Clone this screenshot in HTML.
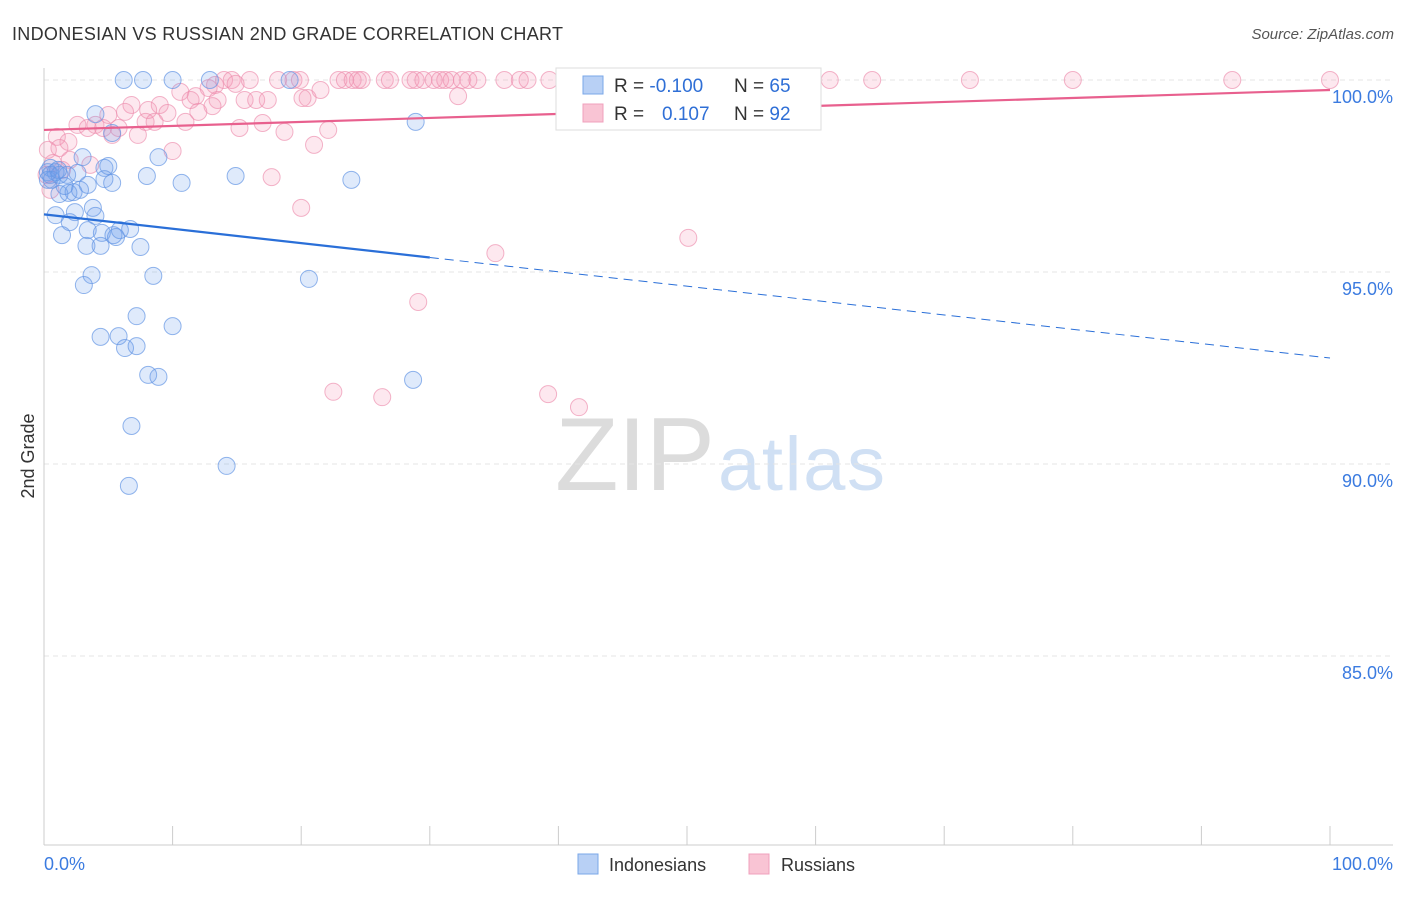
<!DOCTYPE html>
<html><head><meta charset="utf-8"><style>
body{margin:0;background:#fff;font-family:"Liberation Sans",sans-serif;}
svg text{font-family:"Liberation Sans",sans-serif;}
</style></head><body>
<svg id="chart" width="1406" height="892" xmlns="http://www.w3.org/2000/svg">
<text x="12" y="40" font-size="18" fill="#333" textLength="551">INDONESIAN VS RUSSIAN 2ND GRADE CORRELATION CHART</text>
<text x="1394" y="39" font-size="15" fill="#555" text-anchor="end" font-style="italic">Source: ZipAtlas.com</text>
<g>
<text x="555" y="490" font-size="104" font-family="Liberation Serif" fill="#dcdcdc" textLength="160">ZIP</text>
<text x="718" y="490" font-size="76" fill="#d0e0f4" textLength="167">atlas</text>
</g>
<g id="grid"></g>
<g id="axes"></g>
<g id="pts"></g>
<g id="trend"></g>
<text transform="translate(34,456) rotate(-90)" font-size="18" fill="#333" text-anchor="middle">2nd Grade</text>
<g>
<rect x="556" y="68" width="265" height="62" fill="#fff" stroke="#ddd"/>
<rect x="583" y="76" width="20" height="18" fill="#b8d0f5" stroke="#7aa7e8"/>
<rect x="583" y="104" width="20" height="18" fill="#f9c4d4" stroke="#f0a0bc"/>
<text x="614" y="92" font-size="19" fill="#333">R = <tspan fill="#2f6fd6">-0.100</tspan></text>
<text x="734" y="92" font-size="19" fill="#333">N = <tspan fill="#2f6fd6">65</tspan></text>
<text x="614" y="120" font-size="19" fill="#333">R = <tspan fill="#2f6fd6" x="662">0.107</tspan></text>
<text x="734" y="120" font-size="19" fill="#333">N = <tspan fill="#2f6fd6">92</tspan></text>
</g>
<g>
<rect x="578" y="854" width="20" height="20" fill="#b8d0f5" stroke="#7aa7e8"/>
<text x="609" y="871" font-size="18" fill="#333">Indonesians</text>
<rect x="749" y="854" width="20" height="20" fill="#f9c4d4" stroke="#f0a0bc"/>
<text x="781" y="871" font-size="18" fill="#333">Russians</text>
</g>
</svg>
<script>
const yTicks=[100,95,90,85];
const yTickLabels=["100.0%","95.0%","90.0%","85.0%"];
const xTicks=[0,10,20,30,40,50,60,70,80,90,100];
const blueX=[6.2,7.7,10.0,12.9,19.1,4.0,5.3,28.9,3.0,8.9,4.7,5.0,0.5,0.9,1.8,2.6,4.7,5.3,3.4,8.0,10.7,14.9,23.9,0.6,1.2,1.9,2.3,3.8,2.4,4.0,0.9,2.0,1.4,3.4,4.5,5.4,5.9,6.7,5.6,3.3,4.4,7.5,3.7,8.5,3.1,20.6,7.2,10.0,5.8,4.4,6.3,7.2,8.1,8.9,28.7,6.8,14.2,6.6,0.3,0.3,0.5,1.2,1.6,2.8,1.1];
const blueY=[100,100,100,100,100,99.11,98.62,98.91,97.99,97.99,97.71,97.76,97.71,97.6,97.53,97.58,97.42,97.32,97.27,97.5,97.32,97.5,97.4,97.4,97.03,97.06,97.08,96.67,96.56,96.46,96.48,96.3,95.96,96.09,96.02,95.96,96.09,96.12,95.91,95.68,95.68,95.65,94.92,94.9,94.66,94.82,93.85,93.59,93.33,93.31,93.02,93.07,92.32,92.27,92.19,90.99,89.95,89.43,97.6,97.4,97.53,97.53,97.24,97.14,97.66];
const pinkX=[14.0,14.6,16.0,18.2,19.4,19.9,22.9,23.4,24.0,24.4,24.7,26.5,26.9,28.5,28.9,29.5,30.3,30.8,31.2,31.7,32.5,33.0,33.7,35.8,37.0,37.6,39.3,41.7,44.0,47.1,51.0,52.3,54.1,59.4,61.1,64.4,72.0,80.0,92.4,100,13.3,14.9,12.8,21.5,10.6,11.8,11.4,13.5,15.6,16.5,17.4,20.5,20.1,32.2,6.8,9.0,13.1,5.0,6.3,8.1,9.6,12.0,2.6,4.0,3.4,4.6,5.8,7.9,8.6,11.0,15.2,17.0,18.7,22.1,5.3,7.3,1.0,1.9,0.3,1.2,10.0,21.0,2.0,3.6,0.7,0.5,17.7,20.0,50.1,35.1,29.1,22.5,26.3,39.2,41.6,0.2,1.4];
const pinkY=[100,100,100,100,100,100,100,100,100,100,100,100,100,100,100,100,100,100,100,100,100,100,100,100,100,100,100,100,100,100,100,100,100,100,100,100,100,100,100,100,99.87,99.9,99.79,99.74,99.69,99.58,99.48,99.48,99.48,99.48,99.48,99.53,99.53,99.58,99.35,99.35,99.32,99.09,99.17,99.22,99.14,99.17,98.83,98.83,98.75,98.75,98.75,98.91,98.91,98.91,98.75,98.88,98.65,98.7,98.57,98.57,98.52,98.39,98.18,98.23,98.15,98.31,97.92,97.79,97.84,97.14,97.47,96.67,95.89,95.49,94.22,91.88,91.74,91.82,91.48,97.53,97.66];
const blueTrend=[96.5,92.76];
const pinkTrend=[98.7,99.74];
const NS="http://www.w3.org/2000/svg";
const xs=v=>44+v*12.86;
const ys=v=>80+(100-v)*38.4;
function mk(tag,attrs,parent){const e=document.createElementNS(NS,tag);for(const k in attrs)e.setAttribute(k,attrs[k]);document.getElementById(parent).appendChild(e);return e;}
yTicks.forEach((t,i)=>{
 const g=mk('line',{x1:44,x2:1393,y1:ys(t),y2:ys(t),stroke:'#e4e4e4','stroke-dasharray':'5,4'},'grid');
 
 
 const l=mk('text',{x:1393,y:ys(t)+23,'font-size':18,fill:'#3b7be0','text-anchor':'end'},'axes');
 l.textContent=yTickLabels[i];
 
 
});
const ax=mk('line',{x1:44,x2:44,y1:68,y2:845,stroke:'#ccc'},'axes');


const bx=mk('line',{x1:44,x2:1393,y1:845,y2:845,stroke:'#ccc'},'axes');


xTicks.forEach(t=>{
 const k=mk('line',{x1:xs(t),x2:xs(t),y1:826,y2:845,stroke:'#ccc'},'axes');
 
 
});
const xl0=mk('text',{x:44,y:870,'font-size':18,fill:'#3b7be0'},'axes');xl0.textContent='0.0%';


const xl1=mk('text',{x:1393,y:870,'font-size':18,fill:'#3b7be0','text-anchor':'end'},'axes');xl1.textContent='100.0%';


pinkX.forEach((x,i)=>{
 const c=mk('circle',{cx:xs(x),cy:ys(pinkY[i]),r:8.5,fill:'rgba(244,150,180,0.22)',stroke:'rgba(236,140,172,0.65)','stroke-width':1},'pts');
 
 
});
blueX.forEach((x,i)=>{
 const c=mk('circle',{cx:xs(x),cy:ys(blueY[i]),r:8.5,fill:'rgba(110,160,235,0.22)',stroke:'rgba(100,150,228,0.7)','stroke-width':1},'pts');
 
 
});
const bAt=x=>blueTrend[0]+(blueTrend[1]-blueTrend[0])*x/100;
const t1=mk('line',{x1:xs(0),y1:ys(bAt(0)),x2:xs(30),y2:ys(bAt(30)),stroke:'#2a6fd8','stroke-width':2.2},'trend');


const t2=mk('line',{x1:xs(30),y1:ys(bAt(30)),x2:xs(100),y2:ys(bAt(100)),stroke:'#2a6fd8','stroke-width':1,'stroke-dasharray':'9,6'},'trend');


const t3=mk('line',{x1:xs(0),y1:ys(pinkTrend[0]),x2:xs(100),y2:ys(pinkTrend[1]),stroke:'#e8608e','stroke-width':2.2},'trend');


</script>
</body></html>
